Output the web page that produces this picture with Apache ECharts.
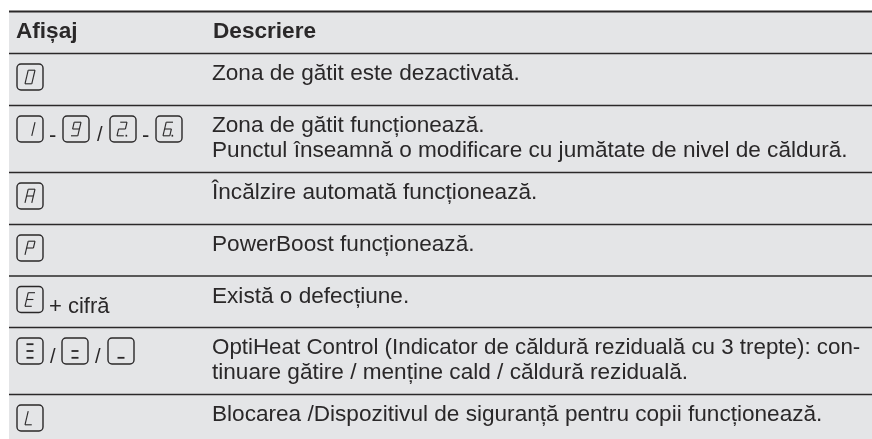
<!DOCTYPE html>
<html><head><meta charset="utf-8">
<style>html,body{margin:0;padding:0;background:#fff}#c{width:872px;height:439px}</style>
<script src="https://cdn.jsdelivr.net/npm/echarts@6/dist/echarts.min.js"></script></head>
<body><div id="c"></div>
<script>
// ---- table content ----
const headers = ['Afișaj', 'Descriere'];
const displayCells = [
  ['0'],
  ['1', '-', '9', '/', '2.', '-', '6.'],
  ['A'],
  ['P'],
  ['E', '+ cifră'],
  ['≡', '/', '=', '/', '_'],
  ['L']
];
const descriptions = [
  ['Zona de gătit este dezactivată.'],
  ['Zona de gătit funcționează.', 'Punctul înseamnă o modificare cu jumătate de nivel de căldură.'],
  ['Încălzire automată funcționează.'],
  ['PowerBoost funcționează.'],
  ['Există o defecțiune.'],
  ['OptiHeat Control (Indicator de căldură reziduală cu 3 trepte): con-', 'tinuare gătire / menține cald / căldură reziduală.'],
  ['Blocarea /Dispozitivul de siguranță pentru copii funcționează.']
];

// ---- layout (separate from the content) ----
const L = {
  left: 9, colKey: 17, colDesc: 212, width: 872, height: 439,
  edges: [11.5, 53.5, 105.5, 172.5, 224.5, 276, 327.5, 394.5],
  edgeW: [2, 1.6, 1.4, 1.6, 1.4, 1.6, 1.4, 1.6],
  keyW: 26, keyH: 26, keyTop: 10.5, textMid: 20.5, lineH: 24.8, textSize: 22.6, headSize: 22.6,
  font: '"Liberation Sans", Arial, sans-serif', ink: '#2a2829', bg: '#e4e5e7'
};
// per-row key x-offsets, in order of tokens
const tokenX = [
  [0],
  [0, 32, 46, 80, 93, 125, 139],
  [0], [0], [0, 32],
  [0, 33, 45, 78, 91],
  [0]
];
const SEG = { '0':'abcdef','1':'bc','2':'abged','9':'abcdfg','6':'acdefg','A':'abcefg','P':'abefg','E':'adefg','L':'def','≡':'agd','=':'gd','_':'d' };

function keyGlyph(api, x, y, ch) {
  const w = L.keyW, h = L.keyH, out = [];
  const P = (a, b) => api.coord([a, b]);
  const tl = P(x, y);
  out.push({ type: 'rect', shape: { x: tl[0], y: tl[1], width: w, height: h, r: 4 },
    style: { fill: 'none', stroke: L.ink, lineWidth: 1.4 } });
  const dot = ch.length > 1 && ch.endsWith('.');
  const c = ch[0], flat = '≡=_'.includes(c);
  const cx = x + w / 2 - (dot ? 1 : 0), cy = y + h / 2;
  const dw = flat ? 3.5 : 3.4, dh = 6.8, sk = flat ? 0 : 0.24;
  const pt = (u, v) => P(cx + u * dw - v * dh * sk, cy + v * dh);
  const s = {
    a: [[-1, -1], [1, -1]], g: [[-1, 0], [1, 0]], d: [[-1, 1], [1, 1]],
    b: [[1, -1], [1, 0]], c: [[1, 0], [1, 1]], e: [[-1, 0], [-1, 1]], f: [[-1, -1], [-1, 0]]
  };
  for (const k of (SEG[c] || '')) {
    const [p, q] = s[k], A = pt(p[0], p[1]), B = pt(q[0], q[1]);
    out.push({ type: 'line', shape: { x1: A[0], y1: A[1], x2: B[0], y2: B[1] },
      style: { stroke: L.ink, lineWidth: flat ? 1.8 : 1.1 } });
  }
  if (dot) {
    const D = pt(1.7, 1);
    out.push({ type: 'rect', shape: { x: D[0] - 0.6, y: D[1] - 1, width: 1.6, height: 1.8 }, style: { fill: L.ink } });
  }
  return out;
}
function text(api, x, y, t, size, weight) {
  const p = api.coord([x, y]);
  return { type: 'text', style: { x: p[0], y: p[1], text: t, fill: L.ink,
    font: (weight || 'normal') + ' ' + size + 'px ' + L.font, textAlign: 'left', textVerticalAlign: 'middle' } };
}
function renderRow(params, api) {
  const i = api.value(0), kids = [];
  const A = api.coord([L.left, L.edges[0]]), B = api.coord([L.width, L.height]);
  if (i === -1) {
    kids.push({ type: 'rect', shape: { x: A[0], y: A[1], width: B[0] - A[0], height: B[1] - A[1] }, style: { fill: L.bg } });
    L.edges.forEach((e, k) => {
      const p = api.coord([L.left, e]);
      kids.push({ type: 'line', shape: { x1: A[0], y1: p[1], x2: B[0], y2: p[1] }, style: { stroke: L.ink, lineWidth: L.edgeW[k] } });
    });
    kids.push(text(api, L.colKey - 1, L.edges[0] + 20.5, headers[0], L.headSize, 'bold'));
    kids.push(text(api, L.colDesc + 1, L.edges[0] + 20.5, headers[1], L.headSize, 'bold'));
    return { type: 'group', children: kids };
  }
  const top = L.edges[i + 1];
  displayCells[i].forEach((tok, j) => {
    const x = L.colKey + tokenX[i][j];
    if (tok === '-') kids.push(text(api, x, top + L.keyTop + 20, tok, 22));
    else if (tok === '/') kids.push(text(api, x, top + L.keyTop + 19, tok, 20));
    else if (tok.startsWith('+')) kids.push(text(api, x, top + L.keyTop + 20, tok, 22));
    else kids.push(...keyGlyph(api, x, top + L.keyTop, tok));
  });
  descriptions[i].forEach((t, k) => {
    const size = (i === 5 && k === 0) ? 22.35 : L.textSize;
    kids.push(text(api, L.colDesc, top + L.textMid + k * L.lineH, t, size));
  });
  return { type: 'group', children: kids };
}
const rowIndex = [-1].concat(descriptions.map((_, i) => i));
const chart = echarts.init(document.getElementById('c'), null, { renderer: 'canvas' });
chart.setOption({
  animation: false,
  backgroundColor: '#ffffff',
  grid: { left: 0, right: 0, top: 0, bottom: 0 },
  xAxis: { type: 'value', min: 0, max: L.width, show: false },
  yAxis: { type: 'value', min: 0, max: L.height, inverse: true, show: false },
  series: [{ type: 'custom', coordinateSystem: 'cartesian2d', silent: true, clip: false,
    encode: { x: 0, y: 0 }, data: rowIndex.map(v => [v]), renderItem: renderRow }]
});
</script></body></html>
